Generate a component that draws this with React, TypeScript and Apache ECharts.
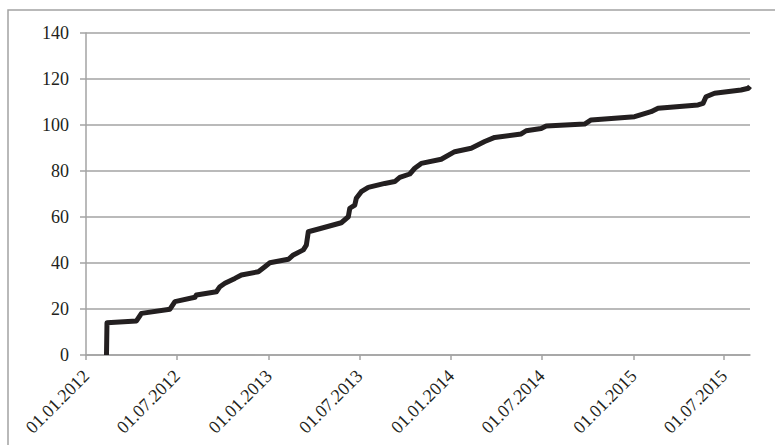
import React, { useEffect, useRef } from "react";
import * as echarts from "echarts";

// cumulative series: [date, value]
const dates: string[] = [
  "2012-02-11", "2012-02-12", "2012-04-11", "2012-04-21", "2012-06-17", "2012-06-27",
  "2012-08-06", "2012-08-09", "2012-09-18", "2012-09-25", "2012-10-05", "2012-10-25",
  "2012-11-07", "2012-12-11", "2012-12-24", "2013-01-03", "2013-02-09", "2013-02-19",
  "2013-03-11", "2013-03-17", "2013-03-21", "2013-04-16", "2013-05-26", "2013-06-09",
  "2013-06-12", "2013-06-22", "2013-06-25", "2013-07-05", "2013-07-19", "2013-08-21",
  "2013-09-10", "2013-09-20", "2013-10-10", "2013-10-20", "2013-11-02", "2013-12-12",
  "2014-01-08", "2014-02-10", "2014-03-09", "2014-03-29", "2014-05-21", "2014-05-31",
  "2014-06-30", "2014-07-10", "2014-09-25", "2014-10-08", "2014-11-04", "2015-01-03",
  "2015-01-13", "2015-02-05", "2015-02-19", "2015-05-10", "2015-05-20", "2015-05-26",
  "2015-06-12", "2015-08-04", "2015-08-19", "2015-08-22",
];
const values: number[] = [
  0, 14, 14.8, 18.1, 19.9, 23.2,
  25.1, 26.1, 27.5, 29.7, 31.2, 33.3,
  34.8, 36.2, 38.4, 40.1, 41.6, 43.5,
  45.7, 47.8, 53.6, 55.1, 57.5, 60.1,
  63.8, 65.2, 68.1, 71, 72.9, 74.6,
  75.4, 77.2, 78.7, 81.2, 83.3, 85.1,
  88.4, 89.9, 92.8, 94.6, 96.1, 97.5,
  98.5, 99.6, 100.4, 102.2, 102.6, 103.6,
  104.3, 105.8, 107.3, 108.7, 109.4, 112.3,
  113.8, 115.2, 116, 116.8,
];
const xTickDates: string[] = [
  "2012-01-01", "2012-07-01", "2013-01-01", "2013-07-01",
  "2014-01-01", "2014-07-01", "2015-01-01", "2015-07-01",
];
const xMin = "2012-01-01";
const xMax = "2015-08-22";
const yMin = 0;
const yMax = 140;
const yStep = 20;

function ts(s: string): number {
  const [y, m, d] = s.split("-").map(Number);
  return Date.UTC(y, m - 1, d);
}
function fmt(v: number): string {
  const d = new Date(v);
  const p = (n: number) => (n < 10 ? "0" + n : "" + n);
  return p(d.getUTCDate()) + "." + p(d.getUTCMonth() + 1) + "." + d.getUTCFullYear();
}

export default function App() {
  const ref = useRef<HTMLDivElement>(null);
  useEffect(() => {
    if (!ref.current) return;
    const chart = echarts.init(ref.current, undefined, { renderer: "svg" });
    const gray = "#a3a3a3";
    const font = "Liberation Serif";
    const tickVals = xTickDates.map(ts);
    chart.setOption({
      animation: false,
      backgroundColor: "#ffffff",
      textStyle: { fontFamily: font },
      graphic: [
        {
          type: "rect",
          shape: { x: 8, y: 10, width: 800, height: 500 },
          style: { fill: "none", stroke: gray, lineWidth: 1.5 },
          silent: true,
        },
      ],
      grid: { left: 86, right: 25, top: 33, bottom: 90, containLabel: false },
      xAxis: {
        type: "value",
        min: ts(xMin),
        max: ts(xMax),
        axisLine: { show: true, lineStyle: { color: gray, width: 1.5 } },
        axisTick: {
          show: true,
          length: 5,
          customValues: tickVals,
          lineStyle: { color: gray, width: 1.5 },
        },
        splitLine: { show: false },
        axisLabel: {
          customValues: tickVals,
          rotate: 45,
          margin: 18,
          fontSize: 18,
          color: "#231f20",
          fontFamily: font,
          hideOverlap: false,
          formatter: (v: number) => fmt(v),
        },
      },
      yAxis: {
        type: "value",
        min: yMin,
        max: yMax,
        interval: yStep,
        axisLine: { show: true, lineStyle: { color: gray, width: 1.5 } },
        axisTick: { show: true, length: 6, lineStyle: { color: gray, width: 1.5 } },
        splitLine: { show: true, lineStyle: { color: gray, width: 1.5 } },
        axisLabel: { margin: 17, fontSize: 18, color: "#231f20", fontFamily: font },
      },
      series: [
        {
          type: "line",
          data: dates.map((d, i) => [ts(d), values[i]]),
          showSymbol: false,
          symbol: "none",
          lineStyle: { color: "#231f20", width: 5, join: "round", cap: "butt" },
          z: 5,
        },
      ],
    });
    return () => chart.dispose();
  }, []);
  return (
    <div
      ref={ref}
      style={{ position: "fixed", left: 0, top: 0, width: 775, height: 445 }}
    />
  );
}
